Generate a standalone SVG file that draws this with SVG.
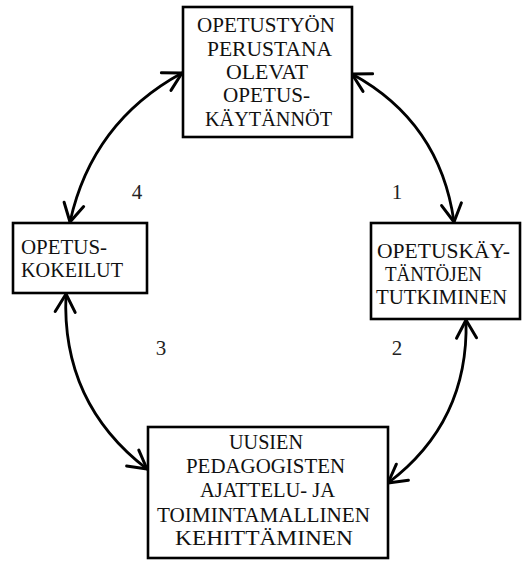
<svg xmlns="http://www.w3.org/2000/svg" width="524" height="561" viewBox="0 0 524 561">
<style>
.box{fill:#fff;stroke:#000;stroke-width:2.6}
.c{fill:none;stroke:#000;stroke-width:2.8;stroke-linecap:round}
.f{font-family:'Liberation Serif','DejaVu Serif',serif}
</style>
<defs>
<marker id="ah" markerUnits="userSpaceOnUse" markerWidth="30" markerHeight="30" refX="0" refY="0" orient="auto-start-reverse" overflow="visible">
<path d="M-18,-10 L0,0 L-18,10" fill="none" stroke="#000" stroke-width="3" stroke-linecap="round" stroke-linejoin="round"/>
</marker>
</defs>
<rect width="524" height="561" fill="#fff"/>
<g id="connectors">
<path class="c" d="M70,222 Q92,122 182,73" marker-start="url(#ah)" marker-end="url(#ah)"/>
<path class="c" d="M352,74 Q440,122 454,222" marker-start="url(#ah)" marker-end="url(#ah)"/>
<path class="c" d="M466,320 Q469,422 388,483" marker-start="url(#ah)" marker-end="url(#ah)"/>
<path class="c" d="M66,294 Q61,403 147,469" marker-start="url(#ah)" marker-end="url(#ah)"/>
</g>
<g id="labels" class="f" font-size="21" fill="#222" text-anchor="middle">
<text x="137" y="199">4</text>
<text x="397" y="199">1</text>
<text x="161" y="355">3</text>
<text x="397" y="355">2</text>
</g>
<g class="f" font-size="22" fill="#111">
<g id="node-top">
<rect class="box" x="183" y="7" width="169" height="130"/>
<text x="197" y="32" textLength="138" lengthAdjust="spacingAndGlyphs">OPETUSTYÖN</text>
<text x="207" y="56" textLength="125" lengthAdjust="spacingAndGlyphs">PERUSTANA</text>
<text x="226" y="79" textLength="82" lengthAdjust="spacingAndGlyphs">OLEVAT</text>
<text x="223" y="102" textLength="87" lengthAdjust="spacingAndGlyphs">OPETUS-</text>
<text x="205" y="126" textLength="127" lengthAdjust="spacingAndGlyphs">KÄYTÄNNÖT</text>
</g>
<g id="node-right">
<rect class="box" x="371" y="223" width="149" height="96"/>
<text x="377" y="258" textLength="133" lengthAdjust="spacingAndGlyphs">OPETUSKÄY-</text>
<text x="385" y="281" textLength="97" lengthAdjust="spacingAndGlyphs">TÄNTÖJEN</text>
<text x="376" y="304" textLength="131" lengthAdjust="spacingAndGlyphs">TUTKIMINEN</text>
</g>
<g id="node-left">
<rect class="box" x="13" y="223" width="134" height="70"/>
<text x="21" y="254" textLength="86" lengthAdjust="spacingAndGlyphs">OPETUS-</text>
<text x="21" y="277" textLength="102" lengthAdjust="spacingAndGlyphs">KOKEILUT</text>
</g>
<g id="node-bottom">
<rect class="box" x="148" y="427" width="240" height="131"/>
<text x="229" y="449" textLength="74" lengthAdjust="spacingAndGlyphs">UUSIEN</text>
<text x="186" y="473" textLength="159" lengthAdjust="spacingAndGlyphs">PEDAGOGISTEN</text>
<text x="200" y="497" textLength="135" lengthAdjust="spacingAndGlyphs">AJATTELU- JA</text>
<text x="157" y="522" textLength="213" lengthAdjust="spacingAndGlyphs">TOIMINTAMALLINEN</text>
<text x="175" y="545" textLength="178" lengthAdjust="spacingAndGlyphs">KEHITTÄMINEN</text>
</g>
</g>
</svg>
